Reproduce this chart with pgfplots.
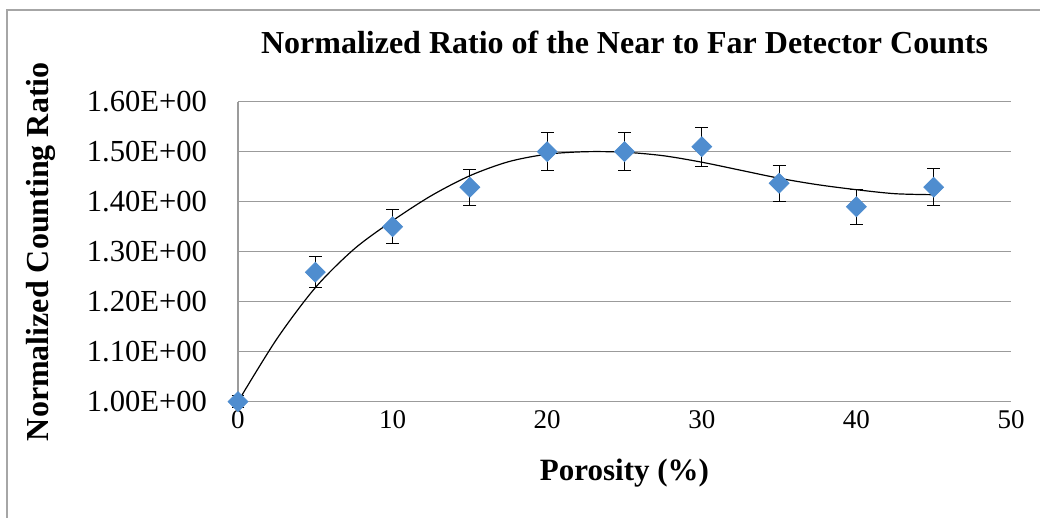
\documentclass[border=0pt]{standalone}
\usepackage{fontspec}
\setmainfont{Liberation Serif}
\usepackage{pgfplots}
\pgfplotsset{compat=1.18}
\definecolor{ptblue}{RGB}{79,141,207}
\definecolor{gridgray}{RGB}{155,155,155}
\begin{document}
\begin{tikzpicture}
\useasboundingbox (-119bp,-58bp) rectangle (401bp,200.85bp);
\draw[gray!70, line width=0.6bp] (-115.5bp,-58bp) -- (-115.5bp,195.85bp) -- (401bp,195.85bp);
\begin{axis}[
  scale only axis,
  width=386.5bp, height=150bp,
  at={(0,0)}, anchor=south west,
  xmin=0, xmax=50, ymin=1.0, ymax=1.6,
  xtick={0,10,20,30,40,50},
  xticklabels={0,10,20,30,40,50},
  ytick={1.0,1.1,1.2,1.3,1.4,1.5,1.6},
  yticklabels={1.00E+00,1.10E+00,1.20E+00,1.30E+00,1.40E+00,1.50E+00,1.60E+00},
  major tick length=0pt,
  axis x line*=bottom, axis y line*=left,
  axis line style={gridgray, line width=0.7bp, -},
  ymajorgrids, grid style={gridgray, line width=0.7bp},
  xticklabel style={font=\fontsize{13.5bp}{16bp}\selectfont, yshift=-1bp},
  yticklabel style={font=\fontsize{15.3bp}{18bp}\selectfont, xshift=-12bp},
  title={Normalized Ratio of the Near to Far Detector Counts},
  title style={font=\fontsize{16bp}{18bp}\selectfont\bfseries, at={(axis description cs:0.5,1)}, anchor=base, yshift=17.9bp},
  xlabel={Porosity (\%)},
  xlabel style={font=\fontsize{15.5bp}{18bp}\selectfont\bfseries, at={(axis description cs:0.5,0)}, anchor=center, yshift=-35.5bp},
  ylabel={Normalized Counting Ratio},
  ylabel style={font=\fontsize{16bp}{18bp}\selectfont\bfseries, at={(axis description cs:-0.2548,0.5)}, anchor=center},
  clip=false,
]
\addplot[only marks, mark=square*, mark size=3.5bp,
  mark options={rotate=45, fill=ptblue, draw=ptblue},
  error bars/.cd, y dir=both, y explicit,
  error bar style={black, line width=0.6bp},
  error mark options={rotate=90, black, mark size=3.2bp, line width=0.6bp}]
  coordinates {
  (0,1.000) +- (0,0.012)
  (5,1.259) +- (0,0.031)
  (10,1.350) +- (0,0.034)
  (15,1.429) +- (0,0.036)
  (20,1.500) +- (0,0.038)
  (25,1.500) +- (0,0.038)
  (30,1.510) +- (0,0.039)
  (35,1.437) +- (0,0.036)
  (40,1.390) +- (0,0.035)
  (45,1.429) +- (0,0.037)
  };
\addplot[black, line width=0.6bp, smooth, no marks] coordinates {
  (0,1.000) (2.5,1.125) (5,1.228) (7.5,1.305) (10,1.362) (12.5,1.412)
  (15,1.452) (17.5,1.480) (20,1.495) (22.5,1.500) (25,1.499) (27.5,1.492)
  (30,1.479) (32.5,1.463) (35,1.447) (37.5,1.434) (40,1.424) (42.5,1.416) (45,1.414)
};
\end{axis}
\end{tikzpicture}
\end{document}
